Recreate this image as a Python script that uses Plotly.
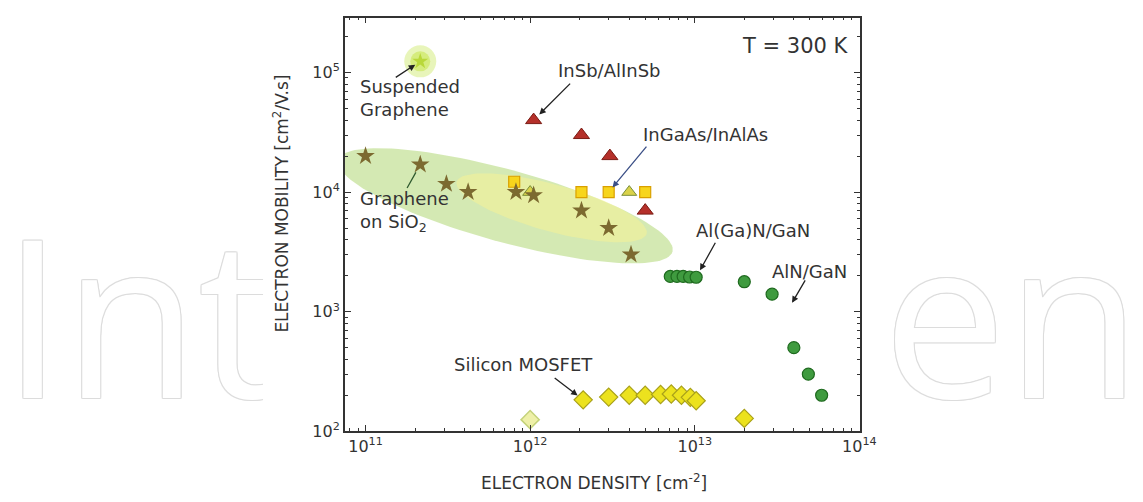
import numpy as np
import plotly.graph_objects as go

W, H = 1143, 502

# ---------------- data ----------------
graphene_sio2_n = [1.0e11, 2.15e11, 3.1e11, 4.2e11, 8.2e11, 1.05e12, 2.05e12, 3.0e12, 4.1e12]
graphene_sio2_mu = [2.0e4, 1.7e4, 1.17e4, 1.0e4, 1.0e4, 9.4e3, 7.0e3, 5.0e3, 3.0e3]

suspended_n = [2.15e11]
suspended_mu = [1.24e5]

insb_n = [1.05e12, 2.05e12, 3.05e12, 5.0e12]
insb_mu = [4.0e4, 3.0e4, 2.0e4, 7.0e3]

ingaas_n = [8.0e11, 2.05e12, 3.0e12, 5.0e12]
ingaas_mu = [1.22e4, 1.0e4, 1.0e4, 1.0e4]

ingaas_tri_n = [1.0e12, 4.0e12]
ingaas_tri_mu = [1.0e4, 1.0e4]

mosfet_n = [2.1e12, 3.0e12, 4.0e12, 5.0e12, 6.2e12, 7.2e12, 8.3e12, 9.4e12, 1.02e13, 2.0e13]
mosfet_mu = [183, 193, 200, 200, 203, 205, 200, 192, 180, 128]

mosfet_pale_n = [1.0e12]
mosfet_pale_mu = [125]

gan_n = [7.1e12, 7.8e12, 8.5e12, 9.3e12, 1.02e13, 2.0e13, 2.95e13, 4.0e13, 4.9e13, 5.9e13]
gan_mu = [1970, 1970, 1970, 1950, 1940, 1780, 1400, 500, 300, 200]

x_tick_vals = [1e11, 1e12, 1e13, 1e14]
x_tick_text = ["10<sup>11</sup>", "10<sup>12</sup>", "10<sup>13</sup>", "10<sup>14</sup>"]
y_tick_vals = [1e2, 1e3, 1e4, 1e5]
y_tick_text = ["10<sup>2</sup>", "10<sup>3</sup>", "10<sup>4</sup>", "10<sup>5</sup>"]

# ---------------- layout helpers ----------------
def pxx(p):
    return p / W

def pyy(p):
    return 1 - p / H

X_DOM = [pxx(350), pxx(873)]
Y_DOM = [pyy(440), pyy(18)]
X_RANGE = [10.874, 14.004]
Y_RANGE = [2.0, 5.459]
XPD = (873 - 350) / (X_RANGE[1] - X_RANGE[0])  # pixels per decade
YPD = (440 - 18) / (Y_RANGE[1] - Y_RANGE[0])

FONT = "DejaVu Sans, Arial, sans-serif"
TXT = "#333333"

fig = go.Figure()

# ---------------- watermark (background subplot) ----------------
outline = "1px 0 #dcdcdc, -1px 0 #dcdcdc, 0 1px #dcdcdc, 0 -1px #dcdcdc, 1px 1px #e4e4e4, -1px -1px #e4e4e4, 1px -1px #e4e4e4, -1px 1px #e4e4e4"
fig.add_trace(go.Scatter(
    x=[2, 896], y=[350, 350], mode="text", text=["Int", "en"],
    textposition="middle right",
    textfont=dict(family="Open Sans", size=220, color="white", shadow=outline),
    hoverinfo="skip", xaxis="x", yaxis="y"))
fig.add_trace(go.Scatter(
    x=[267, 890, 890, 267, 267], y=[-5, -5, 510, 510, -5], mode="lines",
    fill="toself", fillcolor="white", line=dict(width=0, color="white"),
    hoverinfo="skip", xaxis="x", yaxis="y"))

# ---------------- graphene on SiO2 ellipse ----------------
def ellipse(cx_px, cy_px, a, b, ang_deg, n=120):
    t = np.linspace(0, 2 * np.pi, n)
    th = np.deg2rad(ang_deg)
    u = a * np.cos(t) * np.cos(th) - b * np.sin(t) * np.sin(th)
    v = a * np.cos(t) * np.sin(th) + b * np.sin(t) * np.cos(th)
    xp = cx_px + u
    yp = cy_px - v
    lx = X_RANGE[0] + (xp - 350) / XPD
    ly = Y_RANGE[0] + (440 - yp) / YPD
    return 10 ** lx, 10 ** ly

ex, ey = ellipse(513, 210, 176, 37, -15.4)
fig.add_trace(go.Scatter(x=ex, y=ey, mode="lines", fill="toself",
                         fillcolor="rgba(196,224,150,0.72)", line=dict(width=0),
                         hoverinfo="skip", xaxis="x2", yaxis="y2"))
ex2, ey2 = ellipse(560, 212, 100, 24, -15.4)
fig.add_trace(go.Scatter(x=ex2, y=ey2, mode="lines", fill="toself",
                         fillcolor="rgba(246,242,150,0.55)", line=dict(width=0),
                         hoverinfo="skip", xaxis="x2", yaxis="y2"))

# suspended graphene glow
fig.add_trace(go.Scatter(x=suspended_n, y=suspended_mu, mode="markers",
                         marker=dict(symbol="circle", size=32, color="rgba(214,236,130,0.55)", line=dict(width=0)),
                         hoverinfo="skip", xaxis="x2", yaxis="y2"))
fig.add_trace(go.Scatter(x=suspended_n, y=suspended_mu, mode="markers",
                         marker=dict(symbol="circle", size=20, color="rgba(205,232,100,0.7)", line=dict(width=0)),
                         hoverinfo="skip", xaxis="x2", yaxis="y2"))
fig.add_trace(go.Scatter(x=suspended_n, y=suspended_mu, mode="markers",
                         marker=dict(symbol="star", size=12, color="#b9d83a", line=dict(width=0)),
                         xaxis="x2", yaxis="y2"))

# ---------------- data markers ----------------
fig.add_trace(go.Scatter(x=ingaas_n, y=ingaas_mu, mode="markers",
                         marker=dict(symbol="square", size=11, color="#f7d51c", line=dict(width=1.2, color="#d9a000")),
                         xaxis="x2", yaxis="y2"))
fig.add_trace(go.Scatter(x=ingaas_tri_n, y=ingaas_tri_mu, mode="markers",
                         marker=dict(symbol="triangle-up", size=13, color="#d9d24a", line=dict(width=1, color="#7b8f3c")),
                         xaxis="x2", yaxis="y2"))
fig.add_trace(go.Scatter(x=graphene_sio2_n, y=graphene_sio2_mu, mode="markers",
                         marker=dict(symbol="star", size=14, color="#7c6a30", line=dict(width=0)),
                         xaxis="x2", yaxis="y2"))
fig.add_trace(go.Scatter(x=insb_n, y=insb_mu, mode="markers",
                         marker=dict(symbol="triangle-up", size=14, color="#b5302a", line=dict(width=1, color="#7a1c14")),
                         xaxis="x2", yaxis="y2"))
fig.add_trace(go.Scatter(x=mosfet_pale_n, y=mosfet_pale_mu, mode="markers",
                         marker=dict(symbol="diamond", size=14, color="#eef0a8", line=dict(width=1.5, color="#c4d27a")),
                         xaxis="x2", yaxis="y2"))
fig.add_trace(go.Scatter(x=mosfet_n, y=mosfet_mu, mode="markers",
                         marker=dict(symbol="diamond", size=14, color="#ece21e", line=dict(width=1.2, color="#a9a11a")),
                         xaxis="x2", yaxis="y2"))
fig.add_trace(go.Scatter(x=gan_n, y=gan_mu, mode="markers",
                         marker=dict(symbol="circle", size=12, color="#3f9b3f", line=dict(width=1.2, color="#1f6a1f")),
                         xaxis="x2", yaxis="y2"))

# ---------------- axes ----------------
axis_common = dict(
    type="log", showgrid=False, zeroline=False, showline=True, linecolor="#333333", linewidth=1.5,
    mirror="allticks", ticks="inside", ticklen=6, tickwidth=1.2, tickcolor="#333333",
    tickfont=dict(family=FONT, size=16, color=TXT),
    minor=dict(ticks="inside", ticklen=3, tickwidth=1, tickcolor="#333333", dtick="D1", showgrid=False),
)
fig.update_layout(
    width=W, height=H, margin=dict(l=0, r=0, t=0, b=0),
    paper_bgcolor="white", plot_bgcolor="rgba(0,0,0,0)", showlegend=False,
    xaxis=dict(domain=[0, 1], range=[0, W], visible=False, fixedrange=True),
    yaxis=dict(domain=[0, 1], range=[H, 0], visible=False, fixedrange=True),
    xaxis2=dict(domain=X_DOM, range=X_RANGE, anchor="y2", tickvals=x_tick_vals, ticktext=x_tick_text, **axis_common),
    yaxis2=dict(domain=Y_DOM, range=Y_RANGE, anchor="x2", tickvals=y_tick_vals, ticktext=y_tick_text, **axis_common),
)

# ---------------- text & arrows ----------------
ann = []
def label(text, xl, yc, size=18, align="left"):
    ann.append(dict(text=text, x=pxx(xl), y=pyy(yc), xref="paper", yref="paper",
                    xanchor="left", yanchor="middle", showarrow=False, align=align,
                    font=dict(family=FONT, size=size, color=TXT)))

label("Suspended<br>Graphene", 363, 100)
label("InSb/AlInSb", 564, 72)
label("InGaAs/InAlAs", 651, 137)
label("Graphene<br>on SiO<sub>2</sub>", 363, 216)
label("Al(Ga)N/GaN", 704, 235)
label("AlN/GaN", 782, 277)
label("Silicon MOSFET", 459, 372)
label("T = 300 K", 751, 47, size=21)

ann.append(dict(text="ELECTRON DENSITY [cm<sup>-2</sup>]", x=pxx(603), y=pyy(492), xref="paper", yref="paper",
                xanchor="center", yanchor="middle", showarrow=False,
                font=dict(family=FONT, size=17, color=TXT)))
ann.append(dict(text="ELECTRON MOBILITY [cm<sup>2</sup>/V.s]", x=pxx(285), y=pyy(208), xref="paper", yref="paper",
                xanchor="center", yanchor="middle", showarrow=False, textangle=-90,
                font=dict(family=FONT, size=17, color=TXT)))

def arrow(xv, yv, ax, ay, color="#222222", head=2, standoff=7):
    ann.append(dict(text="", x=np.log10(xv), y=np.log10(yv), xref="x2", yref="y2",
                    ax=ax, ay=ay, showarrow=True, arrowhead=head, arrowsize=1, arrowwidth=1.3,
                    arrowcolor=color, standoff=standoff))

arrow(suspended_n[0], suspended_mu[0], -26, 17, standoff=6)
arrow(insb_n[0], insb_mu[0], 38, -38, standoff=8)
arrow(ingaas_n[2], ingaas_mu[2], 39, -47, color="#3b4f86", standoff=6)
arrow(graphene_sio2_n[1], graphene_sio2_mu[1], -14, 25, color="#2f5a2f", head=0, standoff=9)
arrow(gan_n[4], gan_mu[4], 20, -36, standoff=8)
arrow(10 ** (X_RANGE[0] + (804 - 350) / XPD), 10 ** (Y_RANGE[0] + (440 - 309) / YPD), 14, -24, standoff=0)
arrow(mosfet_n[0], mosfet_mu[0], -30, -23, standoff=7)

fig.update_layout(annotations=ann)
fig.write_html("out.html")
